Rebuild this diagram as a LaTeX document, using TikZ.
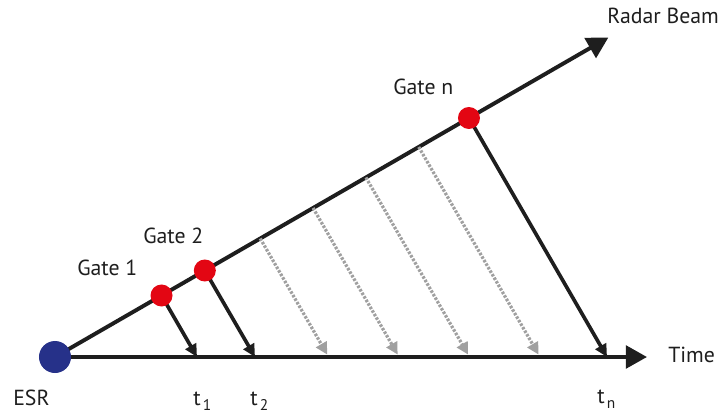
\documentclass[tikz,border=0pt]{standalone}
\usepackage{fontspec}
\setmainfont{PT Sans}
\usetikzlibrary{arrows.meta}

\definecolor{esrblue}{RGB}{38,49,137}
\definecolor{gatered}{RGB}{227,6,19}
\definecolor{ink}{RGB}{30,30,30}
\definecolor{echogray}{RGB}{160,160,160}

\newcommand{\tsub}[1]{t\kern1.5pt\raisebox{-4pt}{\fontsize{11}{12}\selectfont #1}}

\begin{document}
\begin{tikzpicture}[
    x=0.025cm, y=0.025cm,
    esr/.style={circle, fill=esrblue, minimum size=8mm, inner sep=0pt},
    gate/.style={circle, fill=gatered, minimum size=5.5mm, inner sep=0pt},
    axisline/.style={ink, line width=2.8pt, -{Triangle[length=15pt, width=16pt]}},
    pulse/.style={ink, line width=2.6pt, -{Triangle[length=9pt, width=8.5pt]}},
    echo/.style={echogray, line width=2.3pt, dash pattern=on 1.8pt off 1.1pt, -{Triangle[length=8.5pt, width=8.5pt]}, shorten >=2pt},
    lbl/.style={ink, font=\fontsize{15.5}{18}\selectfont, anchor=base west, inner sep=0pt}
]
\useasboundingbox (-55,-57) rectangle (672,357);

% Radar site, beam and time axis
\coordinate (o) at (0,0);
\coordinate (beamend) at (30:639);
\coordinate (timeend) at (592,0);
\draw[axisline] (o) -- (beamend);
\draw[axisline] (o) -- (timeend);

% Gates on the beam and their arrival times
\coordinate (g1) at (30:123);
\coordinate (g2) at (30:173);
\coordinate (gn) at (30:478);
\coordinate (t1) at (142,0);
\coordinate (t2) at (200,0);
\coordinate (tn) at (552,0);
\draw[pulse] (g1) -- (t1);
\draw[pulse] (g2) -- (t2);
\draw[pulse] (gn) -- (tn);

% Intermediate gates
\foreach \d [count=\i] in {237,298,359,420} {
    \coordinate (b\i) at (30:\d);
    \coordinate (e\i) at ({\d/cos(30)},0);
    \draw[echo] (b\i) -- (e\i);
}

% Dots on top
\node[esr] (esrdot) at (o) {};
\node[gate] (gate1) at (g1) {};
\node[gate] (gate2) at (g2) {};
\node[gate] (gaten) at (gn) {};

% Labels
\node[lbl] (beamlbl) at (552,333) {Radar Beam};
\node[lbl] (gatenlbl) at (338,262) {Gate n};
\node[lbl] (gate2lbl) at (88,114) {Gate 2};
\node[lbl] (gate1lbl) at (22,82) {Gate 1};
\node[lbl] (esrlbl) at (-42,-48) {ESR};
\node[lbl] (timelbl) at (613,-5) {Time};
\node[lbl] (t1lbl) at (138,-48) {\tsub{1}};
\node[lbl] (t2lbl) at (195,-48) {\tsub{2}};
\node[lbl] (tnlbl) at (542,-46) {\tsub{n}};

\end{tikzpicture}
\end{document}
